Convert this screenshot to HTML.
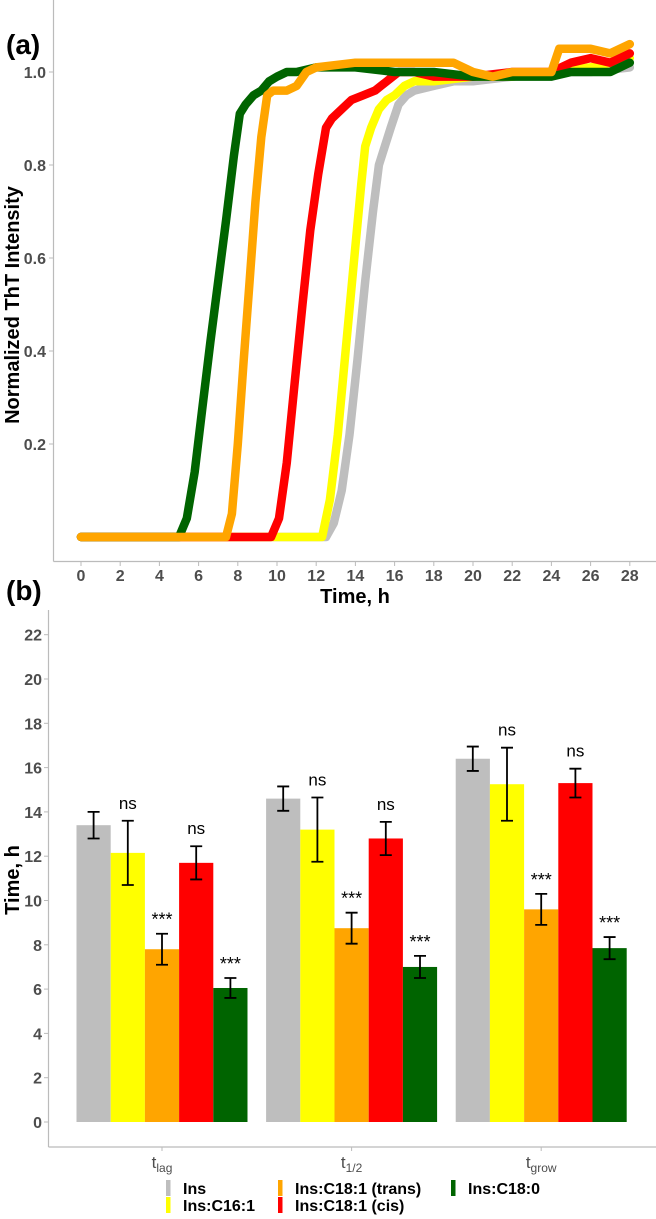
<!DOCTYPE html>
<html><head><meta charset="utf-8"><style>
html,body{margin:0;padding:0;background:#fff;}
svg{display:block;font-family:"Liberation Sans",sans-serif;}
</style></head><body>
<svg id="chart" width="656" height="1219" viewBox="0 0 656 1219" xmlns="http://www.w3.org/2000/svg">
<text x="6" y="54" font-size="28" font-weight="bold" fill="#000">(a)</text>
<text x="6" y="600" font-size="28" font-weight="bold" fill="#000">(b)</text>
<g id="pa"></g>
<g id="pb"></g>
<g id="legend"></g>
</svg>
<script>
// ---------- Panel (a) data ----------
const aXTicks = [0,2,4,6,8,10,12,14,16,18,20,22,24,26,28];
const aYTicks = [0.2,0.4,0.6,0.8,1.0];
const tGray   = [0,12.5,12.9,13.3,13.7,14.1,14.5,14.9,15.2,15.5,15.8,16.2,16.6,17,18,19,20,22,24,26,28];
const vGray   = [0,0,0.03,0.1,0.22,0.38,0.55,0.7,0.8,0.84,0.88,0.93,0.95,0.96,0.97,0.98,0.98,0.99,1.0,1.0,1.01];
const tYellow = [0,12.3,12.7,13.1,13.5,13.9,14.3,14.5,14.8,15.2,15.6,16,16.5,17,18,20,22,24,26,28];
const vYellow = [0,0,0.08,0.22,0.4,0.58,0.76,0.84,0.88,0.92,0.94,0.95,0.97,0.98,0.98,0.99,0.99,1.0,1.01,1.03];
const tRed    = [0,9.7,10.1,10.5,10.9,11.3,11.7,12.1,12.5,12.8,13.3,13.8,14.4,15,15.6,16.2,17,18,20,22,24,25,26,27,28];
const vRed    = [0,0,0.04,0.16,0.33,0.5,0.66,0.78,0.88,0.9,0.92,0.94,0.95,0.96,0.98,1.0,1.0,0.99,0.99,1.0,1.0,1.02,1.03,1.02,1.04];
const tGreen  = [0,5.0,5.4,5.8,6.2,6.6,7.0,7.4,7.8,8.1,8.4,8.8,9.2,9.6,10,10.5,11,12,14,16,18,20,22,24,25,26,27,28];
const vGreen  = [0,0,0.04,0.14,0.28,0.42,0.55,0.68,0.82,0.91,0.93,0.95,0.96,0.98,0.99,1.0,1.0,1.01,1.01,1.0,1.0,0.99,0.99,0.99,1.0,1.0,1.0,1.02];
const tOrange = [0,7.4,7.7,8.0,8.3,8.6,8.9,9.2,9.5,9.8,10.5,11,11.5,12,14,16,18,19,20,21,22,23,24,24.4,25,26,27,28];
const vOrange = [0,0,0.05,0.2,0.38,0.55,0.72,0.86,0.95,0.96,0.96,0.97,1.0,1.01,1.02,1.02,1.02,1.02,1.0,0.99,1.0,1.0,1.0,1.05,1.05,1.05,1.04,1.06];

// ---------- Panel (b) data ----------
const bCategories = ["lag","1/2","grow"];
const bSeries = ["Ins","Ins:C16:1","Ins:C18:1 (trans)","Ins:C18:1 (cis)","Ins:C18:0"];
const bColors = ["#bebebe","#ffff00","#ffa500","#ff0000","#006400"];
const bIns   = [13.4,14.6,16.4];
const bC161  = [12.15,13.2,15.25];
const bTrans = [7.8,8.75,9.6];
const bCis   = [11.7,12.8,15.3];
const bC180  = [6.05,7.0,7.85];
const eIns   = [0.6,0.55,0.55];
const eC161  = [1.45,1.45,1.65];
const eTrans = [0.7,0.7,0.7];
const eCis   = [0.75,0.75,0.65];
const eC180  = [0.45,0.5,0.5];
const sigLabels = ["","ns","***","ns","***"];
const bYTicks = [0,2,4,6,8,10,12,14,16,18,20,22];

const NS = "http://www.w3.org/2000/svg";
function mk(tag, attrs, parent){const e=document.createElementNS(NS,tag);for(const k in attrs)e.setAttribute(k,attrs[k]);parent.appendChild(e);return e;}

// ---------- Panel (a) ----------
const pa = document.getElementById('pa');
const ax = t => 81 + 19.6*t;
const ay = v => 537 - 465*v;
let l = mk('line',{x1:53.5,y1:0,x2:53.5,y2:561.5,stroke:'#bbb','stroke-width':1.2},pa);


l = mk('line',{x1:53.5,y1:561.5,x2:656,y2:561.5,stroke:'#bbb','stroke-width':1.2},pa);


aYTicks.forEach(v=>{
  const tk = mk('line',{x1:49,x2:53.5,y1:ay(v),y2:ay(v),stroke:'#bbb'},pa);
  
  
  const t = mk('text',{x:46,y:ay(v)+6,'text-anchor':'end','font-size':16,'font-weight':'bold',fill:'#4d4d4d'},pa);
  t.textContent = v.toFixed(1);
  
  
});
aXTicks.forEach(v=>{
  const tk = mk('line',{x1:ax(v),x2:ax(v),y1:561.5,y2:566,stroke:'#bbb'},pa);
  
  
  const t = mk('text',{x:ax(v),y:581,'text-anchor':'middle','font-size':16,'font-weight':'bold',fill:'#4d4d4d'},pa);
  t.textContent = v;
  
  
});
let tt = mk('text',{x:355,y:603,'text-anchor':'middle','font-size':20,'font-weight':'bold',fill:'#000'},pa);
tt.textContent='Time, h';


tt = mk('text',{x:0,y:0,'text-anchor':'middle','font-size':20,'font-weight':'bold',fill:'#000',transform:'translate(19,305) rotate(-90)'},pa);
tt.textContent='Normalized ThT Intensity';


const curves = [[tGray,vGray,'#bebebe','curve-ins'],[tYellow,vYellow,'#ffff00','curve-c16-1'],[tRed,vRed,'#ff0000','curve-c18-1-cis'],[tGreen,vGreen,'#006400','curve-c18-0'],[tOrange,vOrange,'#ffa500','curve-c18-1-trans']];
curves.forEach(c=>{
  const d = c[0].map((t,i)=>(i?'L':'M')+ax(t).toFixed(1)+','+ay(c[1][i]).toFixed(1)).join(' ');
  const p = mk('path',{d:d,fill:'none',stroke:c[2],'stroke-width':8.5,'stroke-linejoin':'round','stroke-linecap':'round'},pa);
  
  
});

// ---------- Panel (b) ----------
const pb = document.getElementById('pb');
const by = v => 1122 - 22.15*v;
const groupCenter = i => 162 + 189.6*i;
const barW = 34.2;
l = mk('line',{x1:48.5,y1:610,x2:48.5,y2:1147,stroke:'#bbb','stroke-width':1.2},pb);


l = mk('line',{x1:48.5,y1:1147,x2:656,y2:1147,stroke:'#bbb','stroke-width':1.2},pb);


bYTicks.forEach(v=>{
  const tk = mk('line',{x1:44,x2:48.5,y1:by(v),y2:by(v),stroke:'#bbb'},pb);
  
  
  const t = mk('text',{x:42,y:by(v)+6,'text-anchor':'end','font-size':16,'font-weight':'bold',fill:'#4d4d4d'},pb);
  t.textContent = v;
  
  
});
tt = mk('text',{x:0,y:0,'text-anchor':'middle','font-size':20,'font-weight':'bold',fill:'#000',transform:'translate(19,880) rotate(-90)'},pb);
tt.textContent='Time, h';


const vals = [bIns,bC161,bTrans,bCis,bC180];
const errs = [eIns,eC161,eTrans,eCis,eC180];
bCategories.forEach((cat,i)=>{
  const cx = groupCenter(i);
  const tk = mk('line',{x1:cx,x2:cx,y1:1147,y2:1151,stroke:'#bbb'},pb);
  
  
  const t = mk('text',{x:cx,y:1168,'text-anchor':'middle','font-size':17,fill:'#4d4d4d'},pb);
  
  
  const t1 = mk('tspan',{},t); t1.textContent='t';
  const t2 = mk('tspan',{'font-size':12,dy:4}, t); t2.textContent=cat;
  vals.forEach((arr,s)=>{
    const x0 = cx - 2.5*barW + s*barW;
    const v = arr[i], e = errs[s][i];
    const r = mk('rect',{x:x0,y:by(v),width:barW,height:by(0)-by(v),fill:bColors[s]},pb);
    
    
    const mx = x0 + barW/2;
    const g = mk('path',{d:`M${mx-6},${by(v+e)} H${mx+6} M${mx},${by(v+e)} V${by(v-e)} M${mx-6},${by(v-e)} H${mx+6}`,stroke:'#000','stroke-width':1.8,fill:'none'},pb);
    
    
    if(sigLabels[s]){
      const isNs = sigLabels[s]==='ns';
      const st = mk('text',{x:mx,y:by(v+e)-(isNs?12:8),'text-anchor':'middle','font-size':isNs?17:18,fill:'#000'},pb);
      st.textContent = sigLabels[s];
      
      
    }
  });
});

// ---------- Legend ----------
const lg = document.getElementById('legend');
const legPos = [[166,1180],[166,1197],[278,1180],[278,1197],[451,1180]];
const legOrder = [0,1,2,3,4];
legOrder.forEach((s,k)=>{
  const [x,y] = legPos[k];
  const r = mk('rect',{x:x,y:y,width:4.5,height:16,fill:bColors[s]},lg);
  
  
  const t = mk('text',{x:x+17,y:y+14,'font-size':16,'font-weight':'bold',fill:'#000'},lg);
  t.textContent = bSeries[s];
  
  
});
</script>
</body></html>
